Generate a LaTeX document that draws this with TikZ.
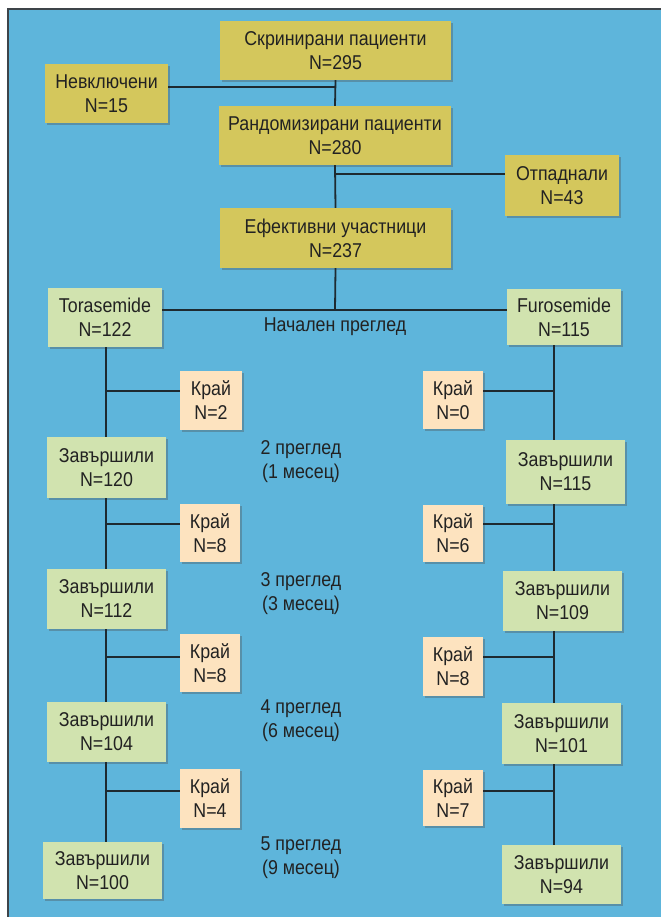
\documentclass[tikz,border=0pt]{standalone}
\usepackage{fontspec}
\setmainfont[FakeStretch=0.89]{Liberation Sans}
\usetikzlibrary{shadows}
\definecolor{bgblue}{HTML}{5EB5DB}
\definecolor{olivebox}{HTML}{D4C75C}
\definecolor{greenbox}{HTML}{D1E3AF}
\definecolor{peachbox}{HTML}{FDE3BF}
\definecolor{linec}{HTML}{1E2A30}
\definecolor{textc}{HTML}{222222}
\definecolor{framec}{HTML}{3E4449}
\tikzset{
  box/.style={inner sep=0pt, align=center, text=textc,
    font=\fontsize{20}{24}\selectfont,
    drop shadow={shadow xshift=1.6pt, shadow yshift=-1.6pt, opacity=0.35, fill=black!70}},
  olive/.style={box, fill=olivebox},
  green/.style={box, fill=greenbox},
  peach/.style={box, fill=peachbox},
  conn/.style={draw=linec, line width=1.8pt},
  lbl/.style={align=center, text=textc, inner sep=0pt, font=\fontsize{20}{24}\selectfont}
}
\begin{document}
\begin{tikzpicture}[x=1pt,y=-1pt]
\useasboundingbox (0,0) rectangle (661,917);
\fill[bgblue] (8,9) rectangle (661,917);
\draw[framec, line width=2.2pt] (8,917) -- (8,9) -- (661,9);

% top olive boxes
\node[olive, minimum width=231pt, minimum height=59pt] (scr) at (335.5,50.5) {Скринирани пациенти\\N=295};
\node[olive, minimum width=123pt, minimum height=59pt] (nev) at (106.5,93.5) {Невключени\\N=15};
\node[olive, minimum width=232pt, minimum height=59pt] (rnd) at (335,135.5) {Рандомизирани пациенти\\N=280};
\node[olive, minimum width=114pt, minimum height=61pt] (otp) at (562,185.5) {Отпаднали\\N=43};
\node[olive, minimum width=231pt, minimum height=60pt] (eff) at (335.5,238) {Ефективни участници\\N=237};

% arms
\node[green, minimum width=114pt, minimum height=59pt] (tor) at (105,317.5) {Torasemide\\N=122};
\node[green, minimum width=114pt, minimum height=56pt] (fur) at (564,317) {Furosemide\\N=115};

\node[peach, minimum width=62pt, minimum height=59pt] (k1L) at (211,400.5) {Край\\N=2};
\node[peach, minimum width=60pt, minimum height=58pt] (k1R) at (453,400) {Край\\N=0};
\node[green, minimum width=119pt, minimum height=61pt] (z1L) at (106.5,467.5) {Завършили\\N=120};
\node[green, minimum width=119pt, minimum height=64pt] (z1R) at (565.5,472) {Завършили\\N=115};

\node[peach, minimum width=60pt, minimum height=58pt] (k2L) at (210,533) {Край\\N=8};
\node[peach, minimum width=60pt, minimum height=57pt] (k2R) at (453,533.5) {Край\\N=6};
\node[green, minimum width=119pt, minimum height=60pt] (z2L) at (106.5,599) {Завършили\\N=112};
\node[green, minimum width=119pt, minimum height=60pt] (z2R) at (562.5,601) {Завършили\\N=109};

\node[peach, minimum width=60pt, minimum height=58pt] (k3L) at (210,663) {Край\\N=8};
\node[peach, minimum width=60pt, minimum height=59pt] (k3R) at (453,666.5) {Край\\N=8};
\node[green, minimum width=119pt, minimum height=60pt] (z3L) at (106.5,732) {Завършили\\N=104};
\node[green, minimum width=119pt, minimum height=61pt] (z3R) at (561.5,733.5) {Завършили\\N=101};

\node[peach, minimum width=60pt, minimum height=59pt] (k4L) at (210,798.5) {Край\\N=4};
\node[peach, minimum width=60pt, minimum height=56pt] (k4R) at (453,798) {Край\\N=7};
\node[green, minimum width=119pt, minimum height=57pt] (z4L) at (102.5,870.5) {Завършили\\N=100};
\node[green, minimum width=119pt, minimum height=59pt] (z4R) at (561.5,874.5) {Завършили\\N=94};

% labels
\node[lbl] (l0) at (335,327) {Начален преглед};
\node[lbl] (l1) at (301,462) {2 преглед\\(1 месец)};
\node[lbl] (l2) at (301,594) {3 преглед\\(3 месец)};
\node[lbl] (l3) at (301,721) {4 преглед\\(6 месец)};
\node[lbl] (l4) at (301,858) {5 преглед\\(9 месец)};

% coordinates
\coordinate (sL) at (106,0);
\coordinate (sR) at (554,0);
\coordinate (jn) at (335,87);
\coordinate (jo) at (335,174);
\coordinate (jt) at (335,310);
\coordinate (b1L) at (106,391);
\coordinate (b2L) at (106,524);
\coordinate (b3L) at (106,657);
\coordinate (b4L) at (106,791);
\coordinate (b1R) at (554,391);
\coordinate (b2R) at (554,524);
\coordinate (b3R) at (554,657);
\coordinate (b4R) at (554,791);

% connectors (top)
\draw[conn] (scr.south) -- (rnd.north);
\draw[conn] (rnd.south) -- (eff.north);
\draw[conn] (eff.south) -- (jt);
\draw[conn] (nev.east |- jn) -- (jn);
\draw[conn] (jo) -- (otp.west |- jo);
\draw[conn] (tor.east |- jt) -- (fur.west |- jt);

% left spine
\draw[conn] (tor.south -| sL) -- (z1L.north -| sL);
\draw[conn] (z1L.south -| sL) -- (z2L.north -| sL);
\draw[conn] (z2L.south -| sL) -- (z3L.north -| sL);
\draw[conn] (z3L.south -| sL) -- (z4L.north -| sL);
\draw[conn] (b1L) -- (b1L -| k1L.west);
\draw[conn] (b2L) -- (b2L -| k2L.west);
\draw[conn] (b3L) -- (b3L -| k3L.west);
\draw[conn] (b4L) -- (b4L -| k4L.west);

% right spine
\draw[conn] (fur.south -| sR) -- (z1R.north -| sR);
\draw[conn] (z1R.south -| sR) -- (z2R.north -| sR);
\draw[conn] (z2R.south -| sR) -- (z3R.north -| sR);
\draw[conn] (z3R.south -| sR) -- (z4R.north -| sR);
\draw[conn] (b1R) -- (b1R -| k1R.east);
\draw[conn] (b2R) -- (b2R -| k2R.east);
\draw[conn] (b3R) -- (b3R -| k3R.east);
\draw[conn] (b4R) -- (b4R -| k4R.east);
\end{tikzpicture}
\end{document}
